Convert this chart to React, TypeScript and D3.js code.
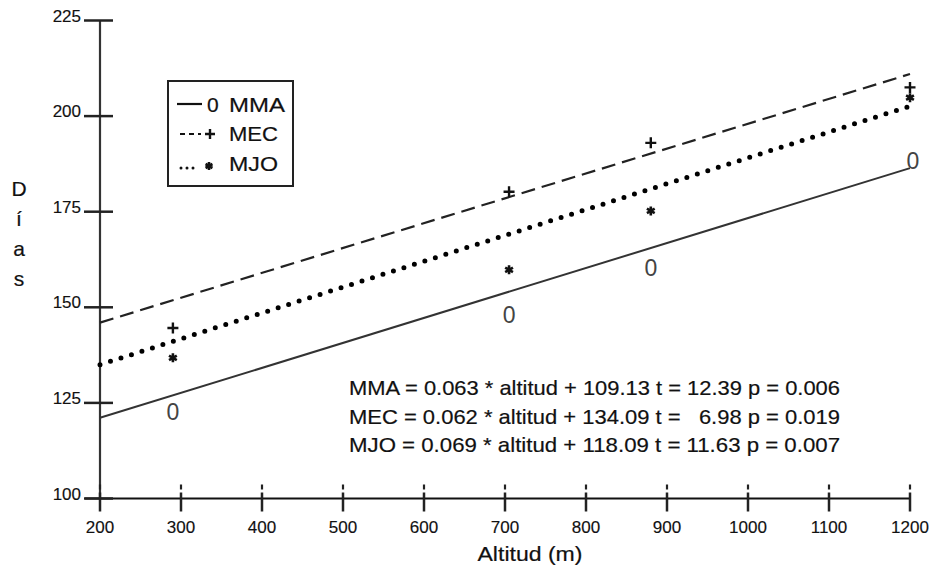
import { useRef, useEffect } from "react";
import * as d3 from "d3";

// altitudes where the three sites were sampled
const altitudes = [290, 705, 880, 1200];
// observed days for each series
const mmaDays = [122.7, 148.2, 160.3, 188.5];
const mecDays = [144.6, 180.2, 193.0, 207.5];
const mjoDays = [136.8, 159.8, 175.2, 204.8];
// fitted line ends (at altitude 200 and 1200)
const fitRange = [200, 1200];
const mmaFit = [121.1, 186.4];
const mecFit = [146.0, 211.0];
const mjoFit = [135.0, 202.6];

const xTicks = [200, 300, 400, 500, 600, 700, 800, 900, 1000, 1100, 1200];
const yTicks = [100, 125, 150, 175, 200, 225];

const equations = [
  "MMA = 0.063 * altitud + 109.13 t = 12.39 p = 0.006",
  "MEC = 0.062 * altitud + 134.09 t =   6.98 p = 0.019",
  "MJO = 0.069 * altitud + 118.09 t = 11.63 p = 0.007",
];
const legendNames = ["MMA", "MEC", "MJO"];
const yLabel = ["D", "í", "a", "s"];

const font = "'Liberation Sans', Arial, Helvetica, sans-serif";

const Chart = () => {
  const ref = useRef<HTMLDivElement>(null);

  useEffect(() => {
    const width = 932;
    const height = 566;
    const ink = "#111";

    const svg = d3.create("svg")
      .attr("width", width)
      .attr("height", height)
      .style("position", "absolute")
      .style("left", "0px")
      .style("top", "0px")
      .style("background", "#fff")
      .attr("font-family", font);

    const x = d3.scaleLinear().domain([200, 1200]).range([100, 910]);
    const y = d3.scaleLinear().domain([100, 225]).range([498.5, 20.5]);

    // slightly heavier look of the scanned lettering
    const heavy = (sel: any, w = 0.2) =>
      sel.attr("stroke", ink).attr("stroke-width", w).attr("paint-order", "stroke");

    // ---------------- axes
    svg.append("line")
      .attr("x1", x(200)).attr("x2", x(200))
      .attr("y1", y(225)).attr("y2", y(100))
      .attr("stroke", "#333").attr("stroke-width", 2.2);

    svg.append("line")
      .attr("x1", 85).attr("x2", x(1200))
      .attr("y1", y(100)).attr("y2", y(100))
      .attr("stroke", ink).attr("stroke-width", 2.2);

    svg.selectAll("line.ytick")
      .data(yTicks)
      .join("line")
      .attr("class", "ytick")
      .attr("x1", 84).attr("x2", 113)
      .attr("y1", d => y(d)).attr("y2", d => y(d))
      .attr("stroke", "#222").attr("stroke-width", 2.5);

    heavy(svg.selectAll("text.ylab")
      .data(yTicks)
      .join("text")
      .attr("class", "ylab")
      .attr("x", 81)
      .attr("y", d => y(d) + 1)
      .attr("text-anchor", "end")
      .attr("font-size", 17)
      .attr("fill", ink)
      .text(d => d), 0.15);

    // x ticks look broken near the top ("i" shape)
    const xt = svg.selectAll("g.xtick")
      .data(xTicks)
      .join("g")
      .attr("class", "xtick")
      .attr("transform", d => `translate(${x(d)},0)`);
    xt.append("line")
      .attr("y1", y(100) - 14).attr("y2", y(100) - 9)
      .attr("stroke", "#222").attr("stroke-width", 2.2);
    xt.append("line")
      .attr("y1", y(100) - 6).attr("y2", y(100) + 13)
      .attr("stroke", "#222").attr("stroke-width", 2.5);

    heavy(svg.selectAll("text.xlab")
      .data(xTicks)
      .join("text")
      .attr("class", "xlab")
      .attr("x", d => x(d))
      .attr("y", 533)
      .attr("text-anchor", "middle")
      .attr("font-size", 17)
      .attr("fill", ink)
      .text(d => d), 0.15);

    heavy(svg.append("text")
      .attr("x", 530).attr("y", 561)
      .attr("text-anchor", "middle")
      .attr("font-size", 21)
      .attr("fill", ink)
      .attr("textLength", 105)
      .attr("lengthAdjust", "spacingAndGlyphs")
      .text("Altitud (m)"));

    heavy(svg.selectAll("text.ytitle")
      .data(yLabel)
      .join("text")
      .attr("class", "ytitle")
      .attr("x", 19)
      .attr("y", (d, i) => 196 + i * 30)
      .attr("text-anchor", "middle")
      .attr("font-size", 21)
      .attr("fill", ink)
      .text(d => d));

    // ---------------- fitted lines
    const line = d3.line<number>()
      .x((d, i) => x(fitRange[i]))
      .y(d => y(d));

    svg.append("path")
      .attr("d", line(mmaFit))
      .attr("fill", "none").attr("stroke", "#333").attr("stroke-width", 2);
    svg.append("path")
      .attr("d", line(mecFit))
      .attr("fill", "none").attr("stroke", "#222").attr("stroke-width", 2.2)
      .attr("stroke-dasharray", "14 7");
    svg.append("path")
      .attr("d", line(mjoFit))
      .attr("fill", "none").attr("stroke", "#000").attr("stroke-width", 5)
      .attr("stroke-linecap", "round")
      .attr("stroke-dasharray", "0 11");

    // ---------------- markers
    const plus = (g: any, cx: number, cy: number, s: number) => {
      g.append("path")
        .attr("d", `M${cx - s},${cy}H${cx + s}M${cx},${cy - s}V${cy + s}`)
        .attr("stroke", ink).attr("stroke-width", 2.4);
    };
    const star = (g: any, cx: number, cy: number, s: number) => {
      const p = d3.range(3).map(k => {
        const a = Math.PI / 2 + (k * Math.PI) / 3;
        const dx = Math.cos(a) * s, dy = Math.sin(a) * s;
        return `M${cx - dx},${cy - dy}L${cx + dx},${cy + dy}`;
      }).join("");
      g.append("path").attr("d", p).attr("stroke", ink).attr("stroke-width", 2.6);
      g.append("circle").attr("cx", cx).attr("cy", cy).attr("r", 1.8).attr("fill", ink);
    };

    svg.selectAll("text.mma")
      .data(altitudes)
      .join("text")
      .attr("class", "mma")
      .attr("x", d => x(d) + (d === 1200 ? 3 : 0))
      .attr("y", (d, i) => y(mmaDays[i]) + 8.5)
      .attr("text-anchor", "middle")
      .attr("font-size", 23)
      .attr("fill", "#444")
      .text("0");

    altitudes.forEach((a, i) => plus(svg, x(a), y(mecDays[i]), 5.5));
    altitudes.forEach((a, i) => star(svg, x(a), y(mjoDays[i]), 4.5));

    // ---------------- legend
    const lg = svg.append("g");
    lg.append("rect")
      .attr("x", 168).attr("y", 81).attr("width", 125).attr("height", 105)
      .attr("fill", "#fff").attr("stroke", "#222").attr("stroke-width", 2);
    lg.append("line")
      .attr("x1", 177).attr("x2", 202).attr("y1", 104).attr("y2", 104)
      .attr("stroke", ink).attr("stroke-width", 2.2);
    heavy(lg.append("text")
      .attr("x", 207).attr("y", 111.5).attr("font-size", 21).attr("fill", ink)
      .text("0"));
    lg.append("line")
      .attr("x1", 180).attr("x2", 201).attr("y1", 134).attr("y2", 134)
      .attr("stroke", ink).attr("stroke-width", 2.2).attr("stroke-dasharray", "5 4");
    plus(lg, 210, 134, 5);
    lg.append("line")
      .attr("x1", 181).attr("x2", 199).attr("y1", 168).attr("y2", 168)
      .attr("stroke", ink).attr("stroke-width", 3).attr("stroke-linecap", "round")
      .attr("stroke-dasharray", "0 6");
    star(lg, 209, 166, 4);
    heavy(lg.selectAll("text.lab")
      .data(legendNames)
      .join("text")
      .attr("class", "lab")
      .attr("x", 229)
      .attr("y", (d, i) => 111.5 + i * 29.5)
      .attr("font-size", 21)
      .attr("fill", ink)
      .attr("textLength", (d, i) => (i === 0 ? 56 : 49))
      .attr("lengthAdjust", "spacingAndGlyphs")
      .text(d => d));

    // ---------------- regression equations
    heavy(svg.selectAll("text.eq")
      .data(equations)
      .join("text")
      .attr("class", "eq")
      .attr("x", 349)
      .attr("y", (d, i) => 395 + i * 28.5)
      .attr("font-size", 21)
      .attr("fill", ink)
      .attr("textLength", 491)
      .attr("lengthAdjust", "spacingAndGlyphs")
      .style("white-space", "pre")
      .text(d => d));

    ref.current!.appendChild(svg.node()!);
    return () => { svg.node()!.remove(); };
  }, []);

  return <div ref={ref}></div>;
};

export default function App() {
  return <Chart />;
}
